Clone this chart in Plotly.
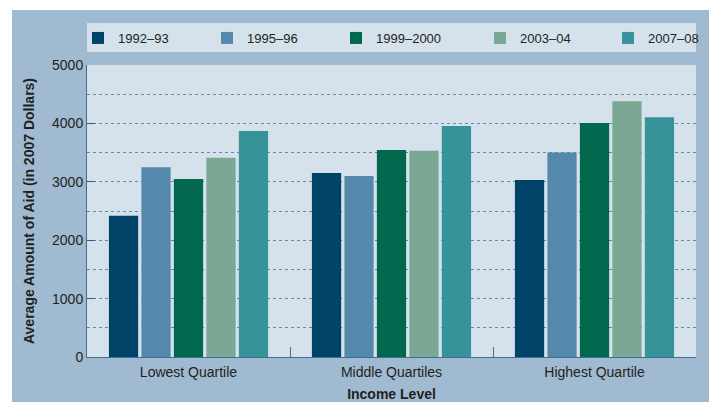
import plotly.graph_objects as go

# income level groups on the x axis
categories = ["Lowest Quartile", "Middle Quartiles", "Highest Quartile"]

# average amount of aid (2007 dollars), one list per academic year
years = ["1992–93", "1995–96", "1999–2000", "2003–04", "2007–08"]
aid_1992 = [2420, 3150, 3030]
aid_1995 = [3250, 3100, 3500]
aid_1999 = [3050, 3545, 4005]
aid_2003 = [3410, 3530, 4380]
aid_2007 = [3870, 3955, 4105]

series = [aid_1992, aid_1995, aid_1999, aid_2003, aid_2007]
colors = ["#004368", "#5589ac", "#02684d", "#7ba795", "#37939a"]

W, H = 709, 402
L, R, T, B = 87, 13, 65, 45
OUTER = "#a0bbd1"
INNER = "#d5e2ec"
TEXT = "#231f20"
FONT = "Liberation Sans Narrow, Arial Narrow, Liberation Sans, sans-serif"

pw = W - L - R
ph = H - T - B


def px_x(x):
    # pixel x -> paper x
    return (x - L) / pw


def px_y(y):
    # pixel y (from top) -> paper y
    return (H - B - y) / ph


# left edge of each legend swatch in the reference, in pixels
legend_left = [93, 222, 351, 495, 623]

fig = go.Figure()

for i, (name, vals, col) in enumerate(zip(years, series, colors)):
    lg = "legend%d" % (i + 2)
    fig.add_trace(go.Bar(
        x=categories,
        y=vals,
        name=name,
        marker_color=col,
        marker_line_width=0,
        legend=lg,
    ))
    fig.update_layout({lg: dict(
        orientation="h",
        x=px_x(legend_left[i] - 15), xanchor="left",
        y=px_y(23), yanchor="top",
        bgcolor="rgba(0,0,0,0)",
        font=dict(family=FONT, size=13, color=TEXT),
        itemclick=False,
    )})

# white strips at the top and left edge of the page
fig.add_shape(type="rect", xref="paper", yref="paper", layer="below",
              x0=px_x(0), x1=px_x(W), y0=px_y(10), y1=px_y(0),
              fillcolor="white", line_width=0)
fig.add_shape(type="rect", xref="paper", yref="paper", layer="below",
              x0=px_x(0), x1=px_x(12), y0=px_y(H), y1=px_y(0),
              fillcolor="white", line_width=0)
# legend box
fig.add_shape(type="rect", xref="paper", yref="paper", layer="below",
              x0=px_x(87), x1=px_x(696), y0=px_y(52), y1=px_y(23),
              fillcolor=INNER, line_width=0)

fig.update_layout(
    width=W, height=H,
    margin=dict(l=L, r=R, t=T, b=B, autoexpand=False),
    paper_bgcolor=OUTER,
    plot_bgcolor=INNER,
    font=dict(family=FONT, size=13, color=TEXT),
    barmode="group",
    bargap=0.2,
    bargroupgap=0.1,
)

fig.update_yaxes(
    range=[0, 5000],
    dtick=1000,
    showgrid=True,
    gridcolor="#5f8bb0",
    griddash="dot",
    gridwidth=1,
    minor=dict(dtick=500, showgrid=True, gridcolor="#5f8bb0", griddash="dot"),
    ticks="inside",
    ticklen=8,
    tickcolor="#2d5f86",
    showline=True,
    linecolor="#3f6e93",
    linewidth=1,
    zeroline=False,
    automargin=False,
    tickfont=dict(size=14),
    title=dict(text="<b>Average Amount of Aid (in 2007 Dollars)</b>",
               font=dict(size=14), standoff=14),
)

fig.update_xaxes(
    showgrid=False,
    tickson="boundaries",
    ticks="inside",
    ticklen=10,
    tickcolor="#3f6e93",
    showline=True,
    linecolor="#3f6e93",
    linewidth=1,
    automargin=False,
    ticklabelstandoff=2,
    tickfont=dict(size=14),
    title=dict(text="<b>Income Level</b>", font=dict(size=14), standoff=10),
)

# drop the default page margin so the figure sits at the window corner
fig.write_html("out.html", config={"displayModeBar": False},
               post_script="document.body.style.margin='0';")
